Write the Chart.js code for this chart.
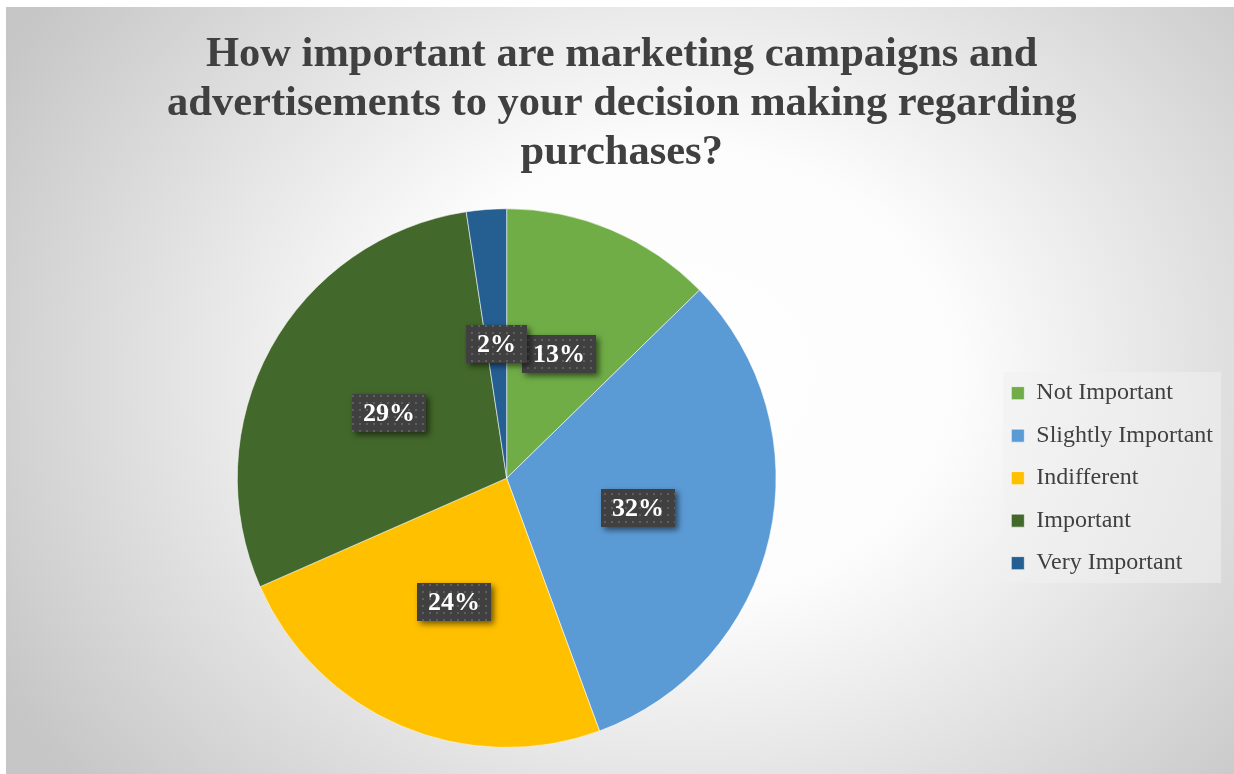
<!DOCTYPE html>
<html><head><meta charset="utf-8">
<script src="https://cdn.jsdelivr.net/npm/chart.js@4"></script>
<style>
html,body{margin:0;padding:0;background:#fff;width:1234px;height:774px;overflow:hidden}
#box{position:absolute;left:6px;top:7px;width:1228px;height:767px;
background:radial-gradient(ellipse 780px 640px at 674px 368px,#ffffff 0%,#fcfcfc 36%,#e6e6e6 62%,#c6c6c6 100%)}
canvas{display:block}
</style></head><body>
<div id="box"><canvas id="c" width="1228" height="767" style="width:1228px;height:767px"></canvas></div>
<script>
const titleLines = ["How important are marketing campaigns and", "advertisements to your decision making regarding", "purchases?"];
const categories = ["Not Important", "Slightly Important", "Indifferent", "Important", "Very Important"];
const values = [12.7, 31.7, 24.0, 29.2, 2.4];
const sliceColors = ["#70AD47", "#5B9BD5", "#FFC000", "#43682B", "#255E91"];

// dotted pattern for label boxes
const pc = document.createElement('canvas');
pc.width = 7; pc.height = 7;
const pctx = pc.getContext('2d');
pctx.fillStyle = 'rgba(255,255,255,0.16)';
pctx.fillRect(3, 3, 2, 2);
let pattern = null;

const bgLegend = {
  id: 'legendBg',
  beforeDraw(chart) {
    const hb = chart.legend && chart.legend.legendHitBoxes;
    if (!hb || !hb.length) return;
    const ctx = chart.ctx;
    let l = Infinity, r = -Infinity;
    hb.forEach(b => { l = Math.min(l, b.left); r = Math.max(r, b.left + b.width); });
    const t = hb[0].top, btm = hb[hb.length - 1].top + hb[hb.length - 1].height;
    ctx.save();
    ctx.fillStyle = 'rgba(240,240,240,0.55)';
    ctx.fillRect(l - 8, t - 9, (r + 8) - (l - 8), (btm + 8) - (t - 9));
    ctx.restore();
  }
};

const boxLabels = {
  id: 'boxLabels',
  afterDatasetsDraw(chart) {
    const ctx = chart.ctx;
    if (!pattern) pattern = ctx.createPattern(pc, 'repeat');
    const meta = chart.getDatasetMeta(0);
    const total = values.reduce((a, b) => a + b, 0);
    ctx.save();
    ctx.font = 'bold 26px "Liberation Serif"';
    ctx.textAlign = 'center';
    ctx.textBaseline = 'middle';
    meta.data.forEach((arc, i) => {
      const p = arc.tooltipPosition();
      const txt = Math.round(values[i] / total * 100) + '%';
      const w = ctx.measureText(txt).width + 22;
      const h = 38;
      const x = Math.round(p.x - w / 2), y = Math.round(p.y - h / 2);
      ctx.save();
      ctx.shadowColor = 'rgba(0,0,0,0.55)';
      ctx.shadowBlur = 6;
      ctx.shadowOffsetX = 3;
      ctx.shadowOffsetY = 3;
      ctx.fillStyle = '#404040';
      ctx.fillRect(x, y, w, h);
      ctx.restore();
      ctx.fillStyle = pattern;
      ctx.fillRect(x, y, w, h);
      ctx.fillStyle = '#ffffff';
      ctx.fillText(txt, x + w / 2, y + h / 2 + 1);
    });
    ctx.restore();
  }
};

new Chart(document.getElementById('c'), {
  type: 'pie',
  data: {
    labels: categories,
    datasets: [{
      data: values,
      backgroundColor: sliceColors,
      borderColor: 'rgba(255,255,255,0.55)',
      borderWidth: 1
    }]
  },
  options: {
    responsive: false,
    animation: false,
    layout: { padding: { left: 14.5, right: 11, top: 0, bottom: 26 } },
    plugins: {
      title: {
        display: true,
        text: titleLines,
        color: '#404040',
        font: { family: '"Liberation Serif"', size: 42.5, weight: 'bold', lineHeight: 1.155 },
        padding: { top: 23.5, bottom: 30.5 }
      },
      legend: {
        position: 'right',
        fullSize: false,
        labels: {
          boxWidth: 13,
          boxHeight: 13,
          padding: 18.5,
          color: '#404040',
          font: { family: '"Liberation Serif"', size: 24 }
        }
      },
      tooltip: { enabled: false }
    }
  },
  plugins: [bgLegend, boxLabels]
});
</script>
</body></html>
